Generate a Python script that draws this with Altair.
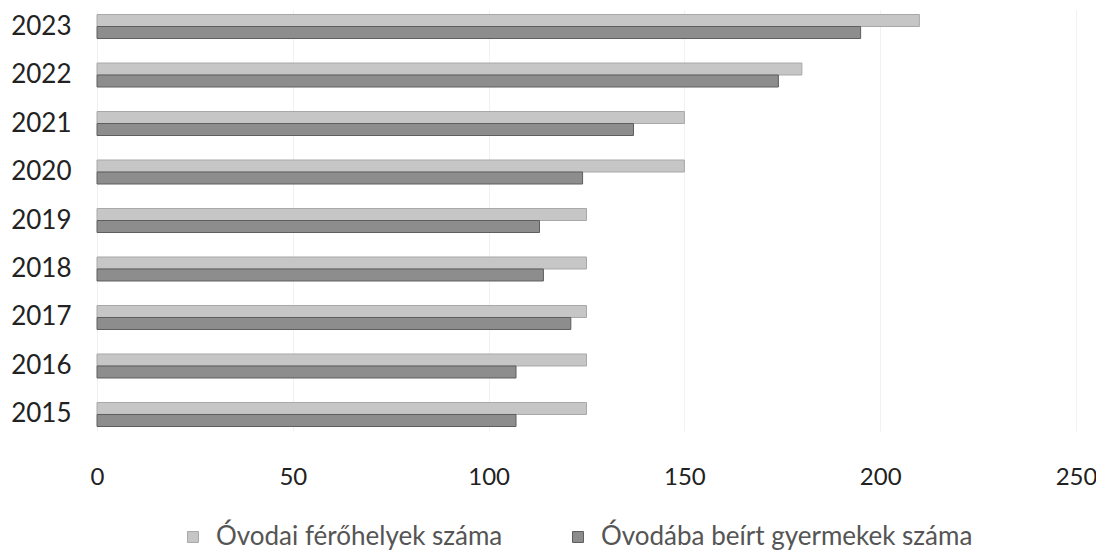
import altair as alt
import pandas as pd

years = ["2015", "2016", "2017", "2018", "2019", "2020", "2021", "2022", "2023"]
ferohely = [125, 125, 125, 125, 125, 150, 150, 180, 210]
beirt = [107, 107, 121, 114, 113, 124, 137, 174, 195]
series = ["Óvodai férőhelyek száma", "Óvodába beírt gyermekek száma"]

rows = []
for y, a, b in zip(years, ferohely, beirt):
    rows.append({"year": y, "series": series[0], "value": a})
    rows.append({"year": y, "series": series[1], "value": b})
df = pd.DataFrame(rows)

FONT = "Lato"

chart = alt.Chart(df).mark_bar(strokeWidth=1).encode(
    y=alt.Y("year:N", sort=list(reversed(years)), title=None,
            scale=alt.Scale(paddingInner=0.505, paddingOuter=0.093),
            axis=alt.Axis(labelFontSize=26, labelFont=FONT, labelColor="#222222",
                          ticks=False, domain=False, labelPadding=26, grid=False)),
    yOffset=alt.YOffset("series:N", sort=series),
    x=alt.X("value:Q", title=None,
            scale=alt.Scale(domain=[0, 250], nice=False),
            axis=alt.Axis(values=[0, 50, 100, 150, 200, 250], labelFontSize=24, labelFont=FONT,
                          labelColor="#222222", ticks=False, domain=False, labelPadding=34,
                          labelFlush=False,
                          grid=True, gridColor="#f1f1f1", gridWidth=1)),
    color=alt.Color("series:N", sort=series,
                    scale=alt.Scale(domain=series, range=["#c6c6c6", "#8d8d8d"]),
                    legend=alt.Legend(title=None, orient="none", direction="horizontal",
                                      legendX=83, legendY=514, labelFontSize=26, labelFont=FONT,
                                      labelColor="#555555", symbolType="square", symbolSize=120,
                                      symbolStrokeWidth=1, columnPadding=62, labelOffset=10,
                                      labelLimit=800)),
    stroke=alt.Stroke("series:N", sort=series,
                      scale=alt.Scale(domain=series, range=["#a8a8a8", "#5e5e5e"]),
                      legend=None),
).properties(
    width=979, height=421,
    autosize=alt.AutoSizeParams(type="none"),
    padding={"left": 89, "top": 2, "right": 20, "bottom": 122},
).configure_view(stroke=None)

chart.save("out.html", embed_options={"renderer": "svg", "actions": False})
